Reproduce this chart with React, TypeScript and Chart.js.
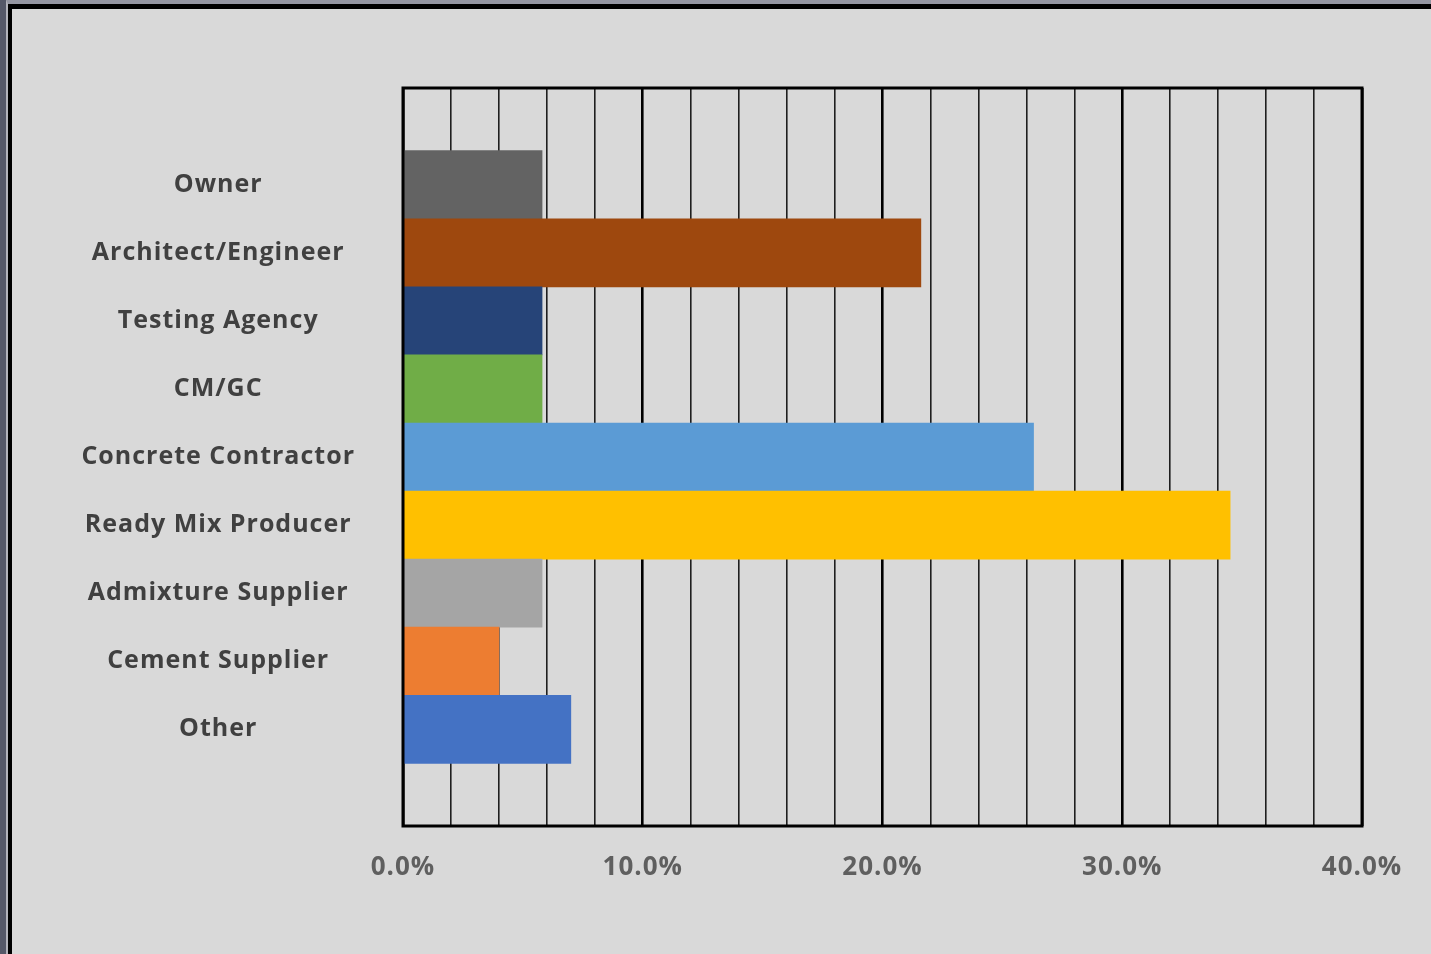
import React, { useEffect, useRef } from "react";
import { Chart, registerables } from "chart.js";

Chart.register(...registerables);

const categories = [
  "Owner",
  "Architect/Engineer",
  "Testing Agency",
  "CM/GC",
  "Concrete Contractor",
  "Ready Mix Producer",
  "Admixture Supplier",
  "Cement Supplier",
  "Other",
];
const values = [5.8, 21.6, 5.8, 5.8, 26.3, 34.5, 5.8, 4.0, 7.0];
const barColors = [
  "#636363",
  "#9E480E",
  "#264478",
  "#70AD47",
  "#5B9BD5",
  "#FFC000",
  "#A5A5A5",
  "#ED7D31",
  "#4472C4",
];
const xMin = 0;
const xMax = 40;
const gridStep = 2;
const labelStep = 10;

const CANVAS_W = 1419;
const CANVAS_H = 945;
const PLOT_LEFT = 391;
const PLOT_TOP = 79;
const PLOT_RIGHT = 1350;
const PLOT_BOTTOM = 817;
const CAT_PAD = 0.92;

const framePlugin = {
  id: "frameAndSpacing",
  beforeUpdate(chart: any) {
    chart.ctx.letterSpacing = "1px";
  },
  beforeDraw(chart: any) {
    chart.ctx.letterSpacing = "1px";
  },
  afterDatasetsDraw(chart: any) {
    const { ctx, chartArea } = chart;
    ctx.save();
    ctx.strokeStyle = "#000";
    ctx.lineWidth = 3;
    ctx.strokeRect(
      chartArea.left,
      chartArea.top,
      chartArea.right - chartArea.left,
      chartArea.bottom - chartArea.top
    );
    ctx.restore();
  },
};

function BarChart() {
  const ref = useRef<HTMLCanvasElement | null>(null);
  useEffect(() => {
    if (!ref.current) return;
    const chart = new Chart(ref.current, {
      type: "bar",
      data: {
        labels: categories,
        datasets: [
          {
            data: values,
            backgroundColor: barColors,
            borderWidth: 0,
            categoryPercentage: 1,
            barPercentage: 1,
          },
        ],
      },
      options: {
        indexAxis: "y",
        animation: false,
        responsive: false,
        layout: {
          padding: { left: 0, top: PLOT_TOP, right: CANVAS_W - PLOT_RIGHT, bottom: 0 },
        },
        plugins: {
          legend: { display: false },
          tooltip: { enabled: false },
        },
        scales: {
          x: {
            type: "linear",
            min: xMin,
            max: xMax,
            border: { display: false },
            grid: {
              drawTicks: false,
              color: (c: any) =>
                c.tick && c.tick.value % labelStep === 0 ? "#000000" : "#1e1e1e",
              lineWidth: (c: any) =>
                c.tick && c.tick.value % labelStep === 0 ? 2.6 : 1.6,
            },
            ticks: {
              stepSize: gridStep,
              autoSkip: false,
              maxRotation: 0,
              padding: 26,
              color: "#5f5f5f",
              font: { family: "'Open Sans', sans-serif", size: 26, weight: "bold" },
              callback: (v: any) =>
                Number(v) % labelStep === 0 ? Number(v).toFixed(1) + "%" : "",
            },
            afterFit: (scale: any) => {
              scale.height = CANVAS_H - PLOT_BOTTOM;
            },
          },
          y: {
            type: "category",
            offset: true,
            border: { display: false },
            grid: { display: false, drawTicks: false },
            ticks: {
              crossAlign: "center",
              padding: 48,
              color: "#404040",
              font: { family: "'Open Sans', sans-serif", size: 25, weight: "bold" },
            },
            afterBuildTicks: (scale: any) => {
              scale._startValue = -0.5 - CAT_PAD;
              scale._valueRange = categories.length + 2 * CAT_PAD;
            },
            afterFit: (scale: any) => {
              scale.width = PLOT_LEFT;
            },
          },
        },
      } as any,
      plugins: [framePlugin],
    });
    return () => chart.destroy();
  }, []);
  return <canvas ref={ref} width={CANVAS_W} height={CANVAS_H} style={{ display: "block" }} />;
}

export default function App() {
  return (
    <div
      style={{
        position: "fixed",
        left: 0,
        top: 0,
        width: 1431,
        height: 954,
        background: "#555868",
        overflow: "hidden",
      }}
    >
      <div
        style={{
          position: "absolute",
          left: 6,
          top: 0,
          right: 0,
          bottom: 0,
          borderTop: "4px solid #9596a2",
          borderLeft: "2px solid #b3b3bb",
        }}
      >
        <div
          style={{
            position: "absolute",
            left: 0,
            top: 0,
            right: 0,
            bottom: 0,
            borderTop: "5px solid #000",
            borderLeft: "4px solid #000",
            background: "#d9d9d9",
          }}
        >
          <BarChart />
        </div>
      </div>
    </div>
  );
}
